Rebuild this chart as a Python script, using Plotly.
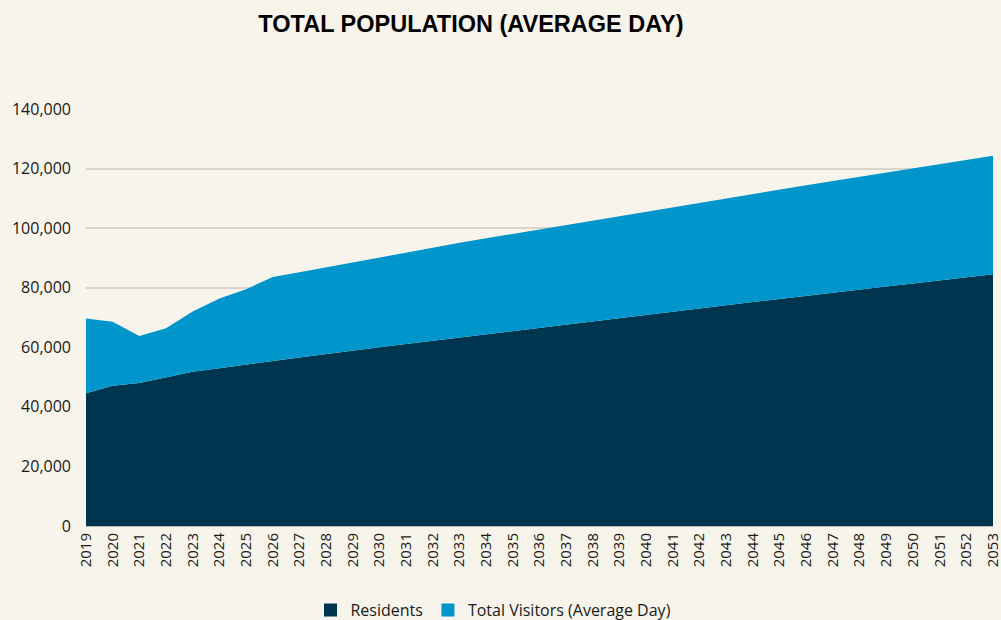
import plotly.graph_objects as go

years = list(range(2019, 2054))

residents = [
    44.6, 47.1, 48.0, 50.0, 51.8, 53.0, 54.1, 55.4, 56.6, 57.8,
    58.9, 60.0, 61.1, 62.2, 63.3, 64.4, 65.5, 66.6, 67.7, 68.8,
    69.9, 71.0, 72.0, 73.1, 74.1, 75.2, 76.2, 77.3, 78.3, 79.4,
    80.4, 81.4, 82.5, 83.5, 84.5,
]

total_population = [
    69.7, 68.6, 63.8, 66.4, 72.0, 76.4, 79.5, 83.6, 85.2, 86.8,
    88.5, 90.1, 91.7, 93.4, 95.1, 96.6, 98.1, 99.6, 101.1, 102.6,
    104.1, 105.6, 107.1, 108.5, 110.0, 111.5, 113.0, 114.4, 115.8, 117.2,
    118.6, 120.0, 121.5, 122.9, 124.3,
]

# values above are in thousands of people
residents_k = [round(r * 1000) for r in residents]
visitors_k = [round((t - r) * 1000) for t, r in zip(total_population, residents)]

y_ticks = [0, 20000, 40000, 60000, 80000, 100000, 120000, 140000]

navy = "#00354F"
blue = "#0096CC"
bg = "#F7F4EC"

fig = go.Figure()
fig.add_trace(go.Scatter(
    x=years, y=residents_k, name="Residents",
    mode="lines", stackgroup="pop", showlegend=False,
    line=dict(width=0, color=navy), fillcolor=navy,
))
fig.add_trace(go.Scatter(
    x=years, y=visitors_k, name="Total Visitors (Average Day)",
    mode="lines", stackgroup="pop", showlegend=False,
    line=dict(width=0, color=blue), fillcolor=blue,
))
# square swatches for the legend
for name, col in [("Residents", navy), ("Total Visitors (Average Day)", blue)]:
    fig.add_trace(go.Scatter(
        x=[None], y=[None], name=name, mode="markers",
        marker=dict(symbol="square", size=13, color=col),
    ))

fig.update_layout(
    width=1001, height=620,
    paper_bgcolor=bg, plot_bgcolor=bg,
    margin=dict(l=86, r=8, t=109, b=94, autoexpand=False),
    title=dict(
        text="<b>TOTAL POPULATION (AVERAGE DAY)</b>",
        x=0.4705, xref="container", xanchor="center",
        y=0.962, yref="container", yanchor="middle",
        font=dict(family="Liberation Sans, Arial, sans-serif", size=23.5, color="#000000"),
    ),
    font=dict(family="Open Sans, sans-serif", size=15, color="#1a1a1a"),
    showlegend=True,
    legend=dict(
        orientation="h", x=0.493, xanchor="center", xref="container",
        y=0.016, yanchor="middle", yref="container",
        font=dict(size=16, color="#1a1a1a"),
        traceorder="normal", itemwidth=30,
        bgcolor="rgba(0,0,0,0)",
    ),
    hovermode=False,
)

fig.update_xaxes(
    range=[2019, 2053],
    tickmode="array", tickvals=years, ticktext=[str(y) for y in years],
    tickangle=-90, showgrid=False, zeroline=False,
    showline=True, linecolor="#BFBBB2", linewidth=1,
    ticks="", tickfont=dict(size=15), automargin=False,
    ticklabeloverflow="allow",
)
fig.update_yaxes(
    range=[0, 140000],
    tickmode="array", tickvals=y_ticks,
    tickformat=",d",
    showgrid=True, gridcolor="#D9D5CD", gridwidth=1.5,
    zeroline=False, showline=False, ticks="",
    ticklabelstandoff=14, tickfont=dict(size=16), automargin=False,
)

fig.write_html("out.html")
